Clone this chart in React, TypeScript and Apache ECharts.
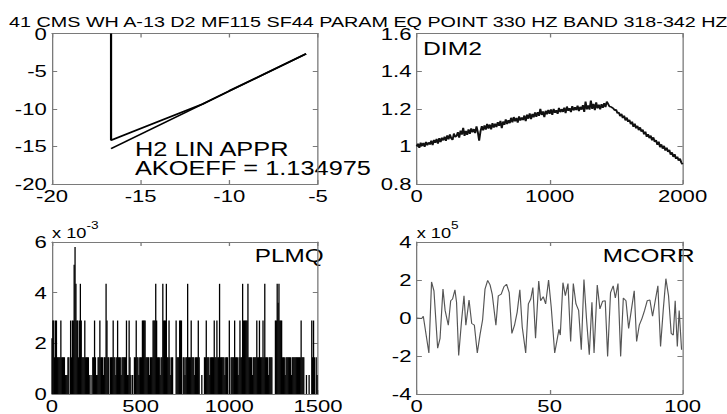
import React, { useEffect, useRef } from "react";
import * as echarts from "echarts";

const TITLE = "41 CMS WH A-13 D2 MF115 SF44 PARAM EQ POINT 330 HZ BAND 318-342 HZ";
const H2_LABEL_1 = "H2 LIN APPR";
const H2_LABEL_2 = "AKOEFF = 1.134975";

// Top-left: H2 curve and its linear approximation
const h2DataX = [-16.67, -16.67, -15.5, -14, -12.5, -11.5, -10, -8, -5.67];
const h2DataY = [0, -14.2, -13.1, -11.7, -10.3, -9.38, -7.62, -5.35, -2.7];
const h2FitX = [-16.67, -5.67];
const h2FitY = [-15.3, -2.7];

// Top-right: DIM2, sampled every 10 units from 0 to 2000
const dim2Step = 10;
const dim2Values = [
  1.000, 1.014, 0.992, 1.020, 1.002, 1.018, 0.998, 1.024, 1.006, 1.021,
  1.010, 1.030, 1.007, 1.034, 1.019, 1.039, 1.015, 1.044, 1.023, 1.046,
  1.032, 1.052, 1.029, 1.058, 1.038, 1.064, 1.043, 1.034, 1.068, 1.050,
  1.055, 1.076, 1.047, 1.084, 1.063, 1.098, 1.056, 1.082, 1.061, 1.090,
  1.067, 1.096, 1.075, 1.092, 1.071, 1.106, 1.076, 1.030, 1.080, 1.108,
  1.085, 1.111, 1.089, 1.119, 1.095, 1.116, 1.091, 1.124, 1.100, 1.120,
  1.103, 1.129, 1.109, 1.136, 1.097, 1.132, 1.115, 1.144, 1.119, 1.139,
  1.123, 1.152, 1.128, 1.156, 1.133, 1.151, 1.126, 1.159, 1.137, 1.154,
  1.140, 1.164, 1.134, 1.169, 1.147, 1.176, 1.145, 1.172, 1.154, 1.180,
  1.157, 1.182, 1.162, 1.200, 1.167, 1.186, 1.155, 1.189, 1.171, 1.194,
  1.173, 1.196, 1.167, 1.199, 1.179, 1.192, 1.173, 1.204, 1.182, 1.198,
  1.183, 1.206, 1.177, 1.212, 1.189, 1.203, 1.182, 1.214, 1.191, 1.208,
  1.193, 1.216, 1.187, 1.210, 1.195, 1.219, 1.183, 1.238, 1.197, 1.218,
  1.195, 1.243, 1.199, 1.226, 1.193, 1.234, 1.202, 1.222, 1.197, 1.224,
  1.205, 1.230, 1.209, 1.238, 1.225, 1.212, 1.211, 1.206, 1.201, 1.191,
  1.195, 1.176, 1.181, 1.161, 1.173, 1.151, 1.163, 1.138, 1.153, 1.131,
  1.141, 1.118, 1.131, 1.104, 1.121, 1.096, 1.109, 1.086, 1.101, 1.078,
  1.089, 1.064, 1.078, 1.051, 1.065, 1.044, 1.057, 1.032, 1.048, 1.024,
  1.033, 1.008, 1.025, 0.996, 1.011, 0.988, 1.003, 0.978, 0.993, 0.971,
  0.981, 0.956, 0.968, 0.944, 0.958, 0.934, 0.945, 0.924, 0.935, 0.914,
  0.905,
];

// Bottom-left: PLMQ (units of 10^-3), one value per 5 samples
const plmqStep = 5;
const plmqValues = [
  2.2, 2.9, 2.9, 1.45, 2.9, 2.9, 1.45, 1.45, 1.45, 1.45, 2.9, 1.45, 1.45, 1.45, 1.45, 0.75, 0.75, 0.75, 1.45, 1.45,
  0, 2.9, 1.45, 2.9, 2.9, 5.1, 5.8, 4.35, 2.9, 2.9, 1.45, 2.9, 4.35, 2.9, 1.45, 1.45, 1.45, 2.9, 1.45, 1.45,
  1.45, 1.45, 0.75, 0, 0.75, 0, 1.45, 1.45, 2.9, 1.45, 0.75, 0.75, 1.45, 1.45, 2.9, 1.45, 1.45, 1.45, 0.75, 1.45,
  1.45, 4.35, 2.9, 1.45, 1.45, 0, 1.45, 1.45, 1.45, 2.9, 1.45, 1.45, 0.75, 1.45, 2.9, 1.45, 1.45, 1.45, 0.75, 1.45,
  1.45, 1.45, 1.45, 1.45, 2.9, 0.75, 0.75, 2.9, 1.45, 0.75, 0, 0.75, 0, 1.45, 1.45, 2.9, 1.45, 1.45, 0.75, 1.45,
  1.45, 1.45, 2.9, 2.9, 2.9, 2.9, 1.45, 1.45, 1.45, 1.45, 0.75, 1.45, 1.45, 1.45, 2.9, 2.9, 2.9, 4.35, 2.9, 1.45,
  1.45, 1.45, 0.75, 1.45, 1.45, 4.35, 2.9, 2.9, 2.9, 4.35, 1.45, 1.45, 2.9, 1.45, 0.75, 1.45, 1.45, 0, 0, 0,
  2.9, 1.45, 1.45, 1.45, 2.9, 2.9, 2.9, 0, 1.45, 1.45, 0.75, 1.45, 1.45, 4.35, 1.45, 1.45, 1.45, 2.9, 1.45, 1.45,
  1.45, 0.75, 1.45, 1.45, 1.45, 2.9, 1.45, 0, 0, 0.75, 0, 0, 1.45, 1.45, 2.9, 1.45, 1.45, 1.45, 0.75, 1.45,
  1.45, 1.45, 1.45, 2.9, 1.45, 1.45, 2.9, 1.45, 1.45, 4.35, 1.45, 1.45, 1.45, 1.45, 1.45, 0.75, 1.45, 1.45, 1.45, 0,
  2.9, 0, 1.45, 1.45, 1.45, 1.45, 2.9, 1.45, 1.45, 1.45, 0.75, 1.45, 2.9, 1.45, 1.45, 4.35, 2.9, 2.9, 2.9, 2.9,
  2.9, 4.35, 1.45, 1.45, 1.45, 1.45, 0.75, 1.45, 1.45, 1.45, 1.45, 2.9, 1.45, 1.45, 2.9, 1.45, 1.45, 1.45, 2.9, 1.45,
  4.35, 1.45, 1.45, 1.45, 0.75, 1.45, 1.45, 1.45, 1.45, 0, 0, 0, 2.9, 2.9, 4.35, 3.6, 4.35, 2.9, 2.9, 2.9,
  1.45, 1.45, 1.45, 0.75, 1.45, 1.45, 1.45, 1.45, 1.45, 1.45, 0.75, 1.45, 1.45, 1.45, 1.45, 1.45, 1.45, 1.45, 1.45, 1.45,
  1.45, 2.9, 1.45, 1.45, 1.45, 0, 0, 0.75, 0, 0, 0.75, 0, 0, 2.9, 1.45, 2.9, 1.45, 0, 1.45, 0.75,
];

// Bottom-right: MCORR (units of 10^5)
const mcorrX = [
  0, 1.9, 2.5, 4.6, 5.6, 6.5, 7.9, 8.8, 9.9, 10.7, 11.9, 12.8, 13.5, 14.4, 15.0, 15.8, 16.9, 17.8, 18.5, 19.7,
  20.7, 21.7, 22.8, 23.8, 24.8, 25.7, 26.7, 27.6, 28.4, 29.8, 30.7, 31.8, 32.8, 33.8, 34.8, 35.8, 36.8, 37.8, 38.8, 39.7,
  41.0, 42.0, 42.9, 43.7, 44.7, 45.9, 46.6, 47.6, 48.5, 49.6, 50.6, 51.9, 52.9, 53.5, 54.0, 55.0, 55.9, 56.9, 57.9, 58.9,
  59.9, 60.9, 61.9, 62.9, 63.9, 64.9, 65.9, 66.7, 67.9, 68.9, 69.9, 70.9, 71.8, 72.9, 73.9, 74.7, 75.7, 76.7, 77.7, 78.7,
  79.7, 80.7, 81.8, 82.7, 83.7, 84.7, 85.7, 86.7, 87.7, 88.7, 89.7, 90.7, 91.7, 92.7, 93.7, 94.7, 95.7, 96.5, 97.2, 98.0,
  98.7, 99.6,
];
const mcorrY = [
  0.00, -0.03, 0.09, -1.84, 1.90, 1.43, -1.59, -1.07, 1.52, 0.40, -0.38, 0.91, 1.00, 1.48, 0.83, -1.97, -0.12, 1.17, -0.38, 0.95,
  -0.29, -0.38, -1.84, -0.90, -0.09, 1.52, 1.98, 1.74, 1.26, -0.38, 1.17, 1.26, 1.64, 1.78, 1.34, -0.81, -0.38, 0.31, 1.48, -0.47,
  -1.84, 0.74, 1.00, 1.60, -1.07, 1.95, 0.91, 1.12, 0.74, 2.00, 0.57, -1.84, -1.07, -0.60, -0.90, 1.86, 1.17, 1.81, -1.24, 1.81,
  0.74, 0.40, -1.67, 2.03, -0.12, -1.93, 0.83, -1.84, 1.74, 0.48, 0.88, 0.91, -2.02, 1.34, 1.69, 1.05, 1.81, -2.02, 1.05, 0.91,
  -0.55, 0.40, 1.43, -1.24, -0.38, -0.03, 0.40, 0.91, 0.95, 0.09, 0.91, 1.69, -1.50, 0.40, 2.07, 1.17, -0.81, -0.90, 0.91, -1.50,
  0.40, -1.67,
];

const FONT = "'Liberation Sans', Arial, Helvetica, sans-serif";
const BOX = "#7a7a7a";
const SX = 1.3; // horizontal stretch of the whole figure
const PAGE_W = 727;
const PAGE_H = 414;
const LW = PAGE_W / SX;

const zip = (xs: number[], ys: number[]) => {
  const n = Math.min(xs.length, ys.length);
  const out: number[][] = [];
  for (let i = 0; i < n; i++) out.push([xs[i], ys[i]]);
  return out;
};

const plainNumber = (v: number) => String(Math.round(v * 1e6) / 1e6);

function axesPair(dim: "x" | "y", gridIndex: number, min: number, max: number, interval: number) {
  const common: any = {
    type: "value",
    gridIndex,
    min,
    max,
    interval,
    scale: true,
    splitLine: { show: false },
    axisLine: { show: true, onZero: false, lineStyle: { color: BOX, width: 1 } },
    axisTick: { show: true, inside: true, length: 4, lineStyle: { color: BOX, width: 1 } },
  };
  return [
    {
      ...common,
      position: dim === "x" ? "bottom" : "left",
      axisLabel: {
        show: true,
        color: "#000",
        fontSize: 17,
        fontFamily: FONT,
        margin: dim === "x" ? 3 : 4,
        formatter: plainNumber,
      },
    },
    {
      ...common,
      position: dim === "x" ? "top" : "right",
      axisLabel: { show: false },
    },
  ];
}

const expName = (exp: string) => ({
  name: `{a|x 10}{b|${exp}}`,
  nameLocation: "end",
  nameGap: 2,
  nameTextStyle: {
    align: "left",
    verticalAlign: "bottom",
    rich: {
      a: { fontSize: 14, fontFamily: FONT, color: "#000", lineHeight: 20, verticalAlign: "bottom" },
      b: { fontSize: 10.5, fontFamily: FONT, color: "#000", lineHeight: 20, verticalAlign: "top" },
    },
  },
});

export default function App() {
  const ref = useRef<HTMLDivElement>(null);

  useEffect(() => {
    if (!ref.current) return;
    const chart = echarts.init(ref.current, undefined, { renderer: "svg" });

    const grids = [
      { left: 40, top: 33.5, width: 204.6, height: 150.5 },
      { left: 320.5, top: 33.5, width: 204.6, height: 150.5 },
      { left: 40, top: 242, width: 204.6, height: 152 },
      { left: 320.5, top: 242, width: 204.6, height: 152 },
    ];

    const xAxes = [
      ...axesPair("x", 0, -20, -5, 5),
      ...axesPair("x", 1, 0, 2000, 1000),
      ...axesPair("x", 2, 0, 1500, 500),
      ...axesPair("x", 3, 0, 100, 50),
    ];
    const yAxes = [
      ...axesPair("y", 0, -20, 0, 5),
      ...axesPair("y", 1, 0.8, 1.6, 0.2),
      ...axesPair("y", 2, 0, 6, 2),
      ...axesPair("y", 3, -4, 4, 2),
    ];
    Object.assign(yAxes[4], expName("-3"));
    Object.assign(yAxes[6], expName("5"));

    const textStyle = (size: number) => ({ fontSize: size, fontFamily: FONT, fill: "#000" });

    chart.setOption({
      animation: false,
      backgroundColor: "#fff",
      title: {
        text: TITLE,
        left: 2,
        top: 9,
        textStyle: { fontSize: 15.2, fontWeight: "normal", fontFamily: FONT, color: "#000", lineHeight: 15 },
      },
      grid: grids.map((g) => ({ ...g, containLabel: false })),
      xAxis: xAxes,
      yAxis: yAxes,
      series: [
        {
          type: "line",
          xAxisIndex: 0,
          yAxisIndex: 0,
          data: zip(h2DataX, h2DataY),
          showSymbol: false,
          lineStyle: { color: "#000", width: 1.7 },
        },
        {
          type: "line",
          xAxisIndex: 0,
          yAxisIndex: 0,
          data: zip(h2FitX, h2FitY),
          showSymbol: false,
          lineStyle: { color: "#000", width: 1.5 },
        },
        {
          type: "line",
          xAxisIndex: 2,
          yAxisIndex: 2,
          data: dim2Values.map((v, i) => [i * dim2Step, v]),
          showSymbol: false,
          lineStyle: { color: "#111", width: 1.5 },
        },
        {
          type: "bar",
          xAxisIndex: 4,
          yAxisIndex: 4,
          data: plmqValues.map((v, i) => [i * plmqStep, v]),
          barWidth: 0.9,
          itemStyle: { color: "#000" },
        },
        {
          type: "line",
          xAxisIndex: 6,
          yAxisIndex: 6,
          data: zip(mcorrX, mcorrY),
          showSymbol: false,
          lineStyle: { color: "#555", width: 0.9 },
        },
      ],
      graphic: [
        { type: "text", left: 103.8, top: 139.5, style: { text: H2_LABEL_1, ...textStyle(19.5) } },
        { type: "text", left: 103.8, top: 158.5, style: { text: H2_LABEL_2, ...textStyle(19.5) } },
        { type: "text", left: 325.4, top: 39.5, style: { text: "DIM2", ...textStyle(19) } },
        { type: "text", left: 196, top: 246.5, style: { text: "PLMQ", ...textStyle(18.7) } },
        { type: "text", left: 463.6, top: 246.5, style: { text: "MCORR", ...textStyle(18.7) } },
      ],
    });

    return () => chart.dispose();
  }, []);

  return (
    <div
      ref={ref}
      style={{
        position: "absolute",
        left: 0,
        top: 0,
        width: LW,
        height: PAGE_H,
        transform: `scaleX(${SX})`,
        transformOrigin: "0 0",
        background: "#fff",
      }}
    />
  );
}
